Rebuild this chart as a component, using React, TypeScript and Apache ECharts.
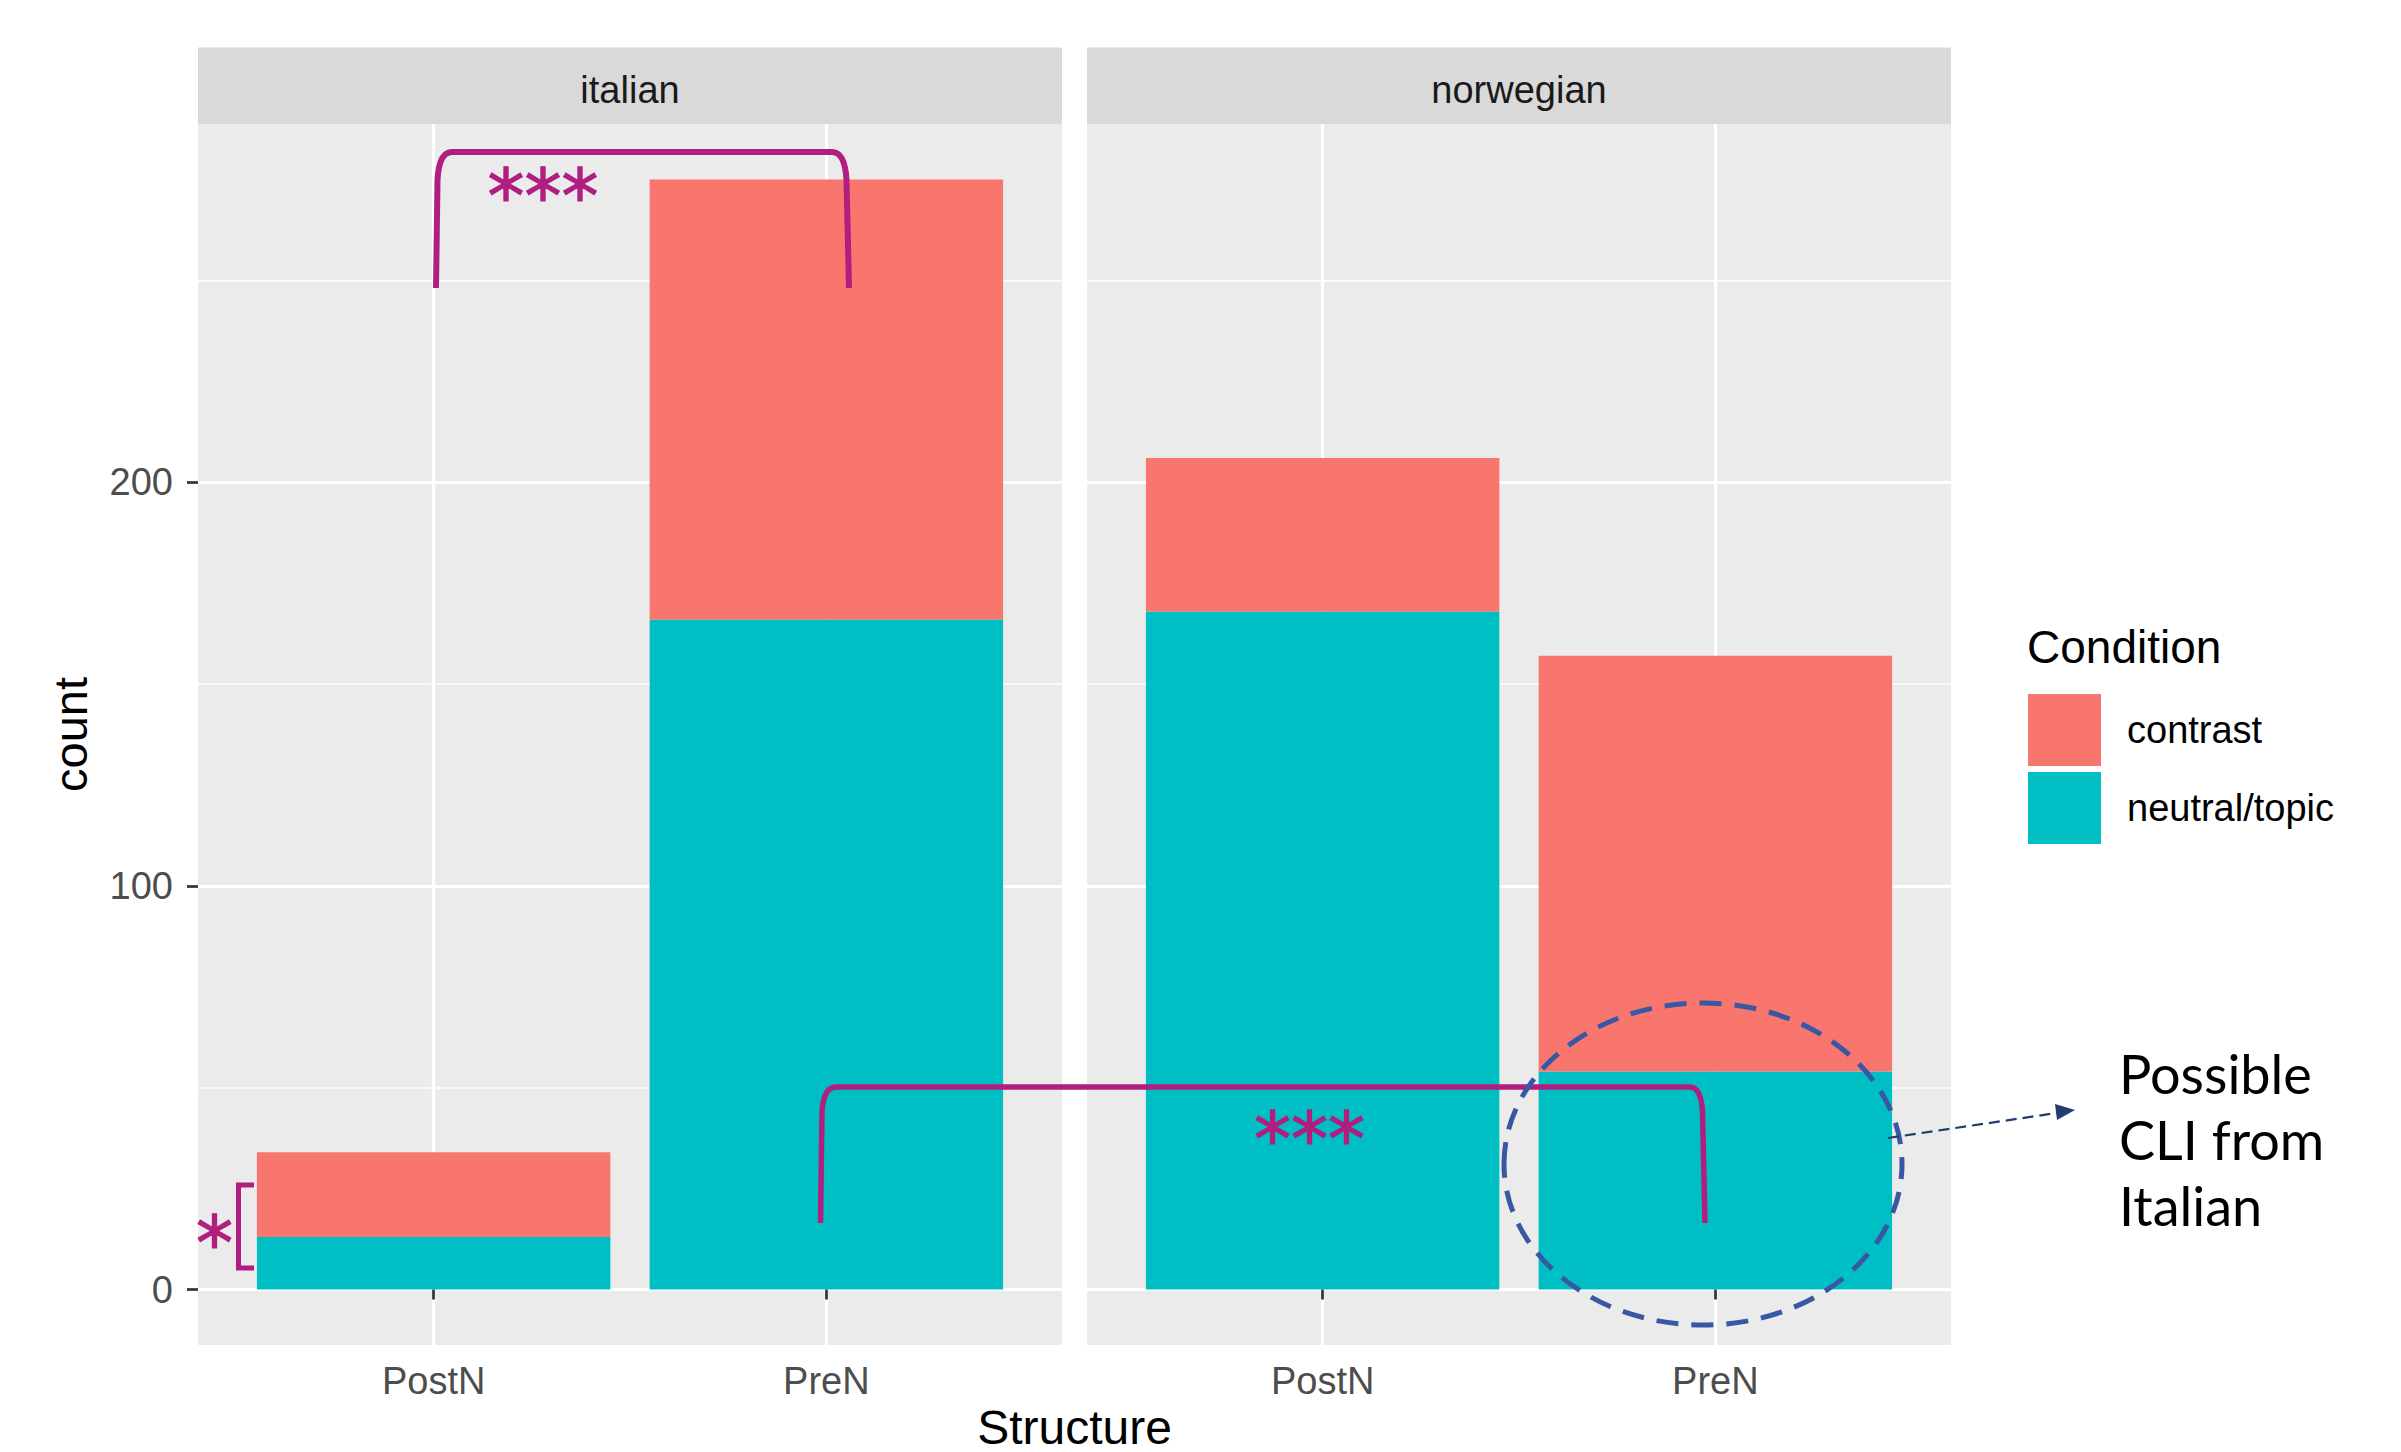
import React, { useEffect, useRef } from 'react';
import * as echarts from 'echarts';

// ---------- data ----------
const structures = ['PostN', 'PreN'];
const languages = ['italian', 'norwegian'];
const conditions = ['contrast', 'neutral/topic'];
const italianContrast = [21, 109];
const italianNeutral = [13, 166];
const norwegianContrast = [38, 103];
const norwegianNeutral = [168, 54];
const yMajorTicks = [0, 100, 200];
const yMinorTicks = [50, 150, 250];
const xTickValues = [1, 2];

// ---------- style / layout ----------
const conditionColors: Record<string, string> = { contrast: '#F8766D', 'neutral/topic': '#00BFC4' };
const FONT = "'Liberation Sans', Arial, sans-serif";
const PANEL_TOP = 124;
const PANEL_H = 1221;
const PANEL_W = 864;
const PANEL_LEFTS = [198, 1087];
const STRIP_TOP = 47.5;
const STRIP_H = 76.5;
const Y_MIN = -13.75;
const Y_MAX = 288.75;
const X_MIN = 0.4;
const X_MAX = 2.6;
const MAGENTA = '#B01E80';

const panelData = [
  { neutral: italianNeutral, contrast: italianContrast },
  { neutral: norwegianNeutral, contrast: norwegianContrast },
];

function buildOption() {
  const unit = PANEL_W / (X_MAX - X_MIN);
  // panel grids (background, gridlines, labels)
  const panelGrids = PANEL_LEFTS.map((left) => ({
    left,
    top: PANEL_TOP,
    width: PANEL_W,
    height: PANEL_H,
    show: true,
    backgroundColor: '#EBEBEB',
    borderWidth: 0,
    containLabel: false,
    outerBoundsMode: 'none',
  }));
  // bar grids: span from first to last category centre
  const barGrids = PANEL_LEFTS.map((left) => ({
    left: left + (1 - X_MIN) * unit,
    top: PANEL_TOP,
    width: unit,
    height: PANEL_H,
    show: false,
    containLabel: false,
    outerBoundsMode: 'none',
  }));

  const xAxes: any[] = PANEL_LEFTS.map((_, g) => ({
    type: 'value',
    gridIndex: g,
    min: X_MIN,
    max: X_MAX,
    axisLine: { show: false },
    axisTick: {
      show: true,
      customValues: xTickValues,
      length: 10,
      lineStyle: { color: '#333333', width: 2.7 },
    },
    axisLabel: {
      show: true,
      customValues: xTickValues,
      formatter: (v: number) => structures[Math.round(v) - 1] ?? '',
      fontSize: 38,
      fontFamily: FONT,
      color: '#4D4D4D',
      margin: 17,
    },
    splitLine: { show: true, lineStyle: { color: '#FFFFFF', width: 3.2 } },
  }));
  PANEL_LEFTS.forEach((_, g) => {
    xAxes.push({
      type: 'category',
      gridIndex: 2 + g,
      data: structures,
      boundaryGap: false,
      show: false,
    });
  });

  const yAxes: any[] = [];
  PANEL_LEFTS.forEach((_, g) => {
    yAxes.push({
      type: 'value',
      gridIndex: g,
      min: Y_MIN,
      max: Y_MAX,
      position: 'left',
      name: g === 0 ? 'count' : '',
      nameLocation: 'middle',
      nameGap: 104,
      nameTextStyle: { fontSize: 47, color: '#000000', fontFamily: FONT },
      axisLine: { show: false },
      axisTick: {
        show: g === 0,
        customValues: yMajorTicks,
        length: 11,
        lineStyle: { color: '#333333', width: 2.7 },
      },
      axisLabel: {
        show: g === 0,
        customValues: yMajorTicks,
        fontSize: 38,
        fontFamily: FONT,
        color: '#4D4D4D',
        margin: 25,
      },
      splitLine: { show: true, lineStyle: { color: '#FFFFFF', width: 3.2 } },
    });
    yAxes.push({
      type: 'value',
      gridIndex: g,
      min: Y_MIN,
      max: Y_MAX,
      position: 'right',
      axisLine: { show: false },
      axisTick: { show: false, customValues: yMinorTicks },
      axisLabel: { show: false, customValues: yMinorTicks },
      splitLine: { show: true, lineStyle: { color: '#FFFFFF', width: 1.7 } },
    });
  });
  PANEL_LEFTS.forEach((_, g) => {
    yAxes.push({
      type: 'value',
      gridIndex: 2 + g,
      min: Y_MIN,
      max: Y_MAX,
      show: false,
      splitLine: { show: false },
    });
  });

  const series: any[] = [];
  panelData.forEach((p, g) => {
    series.push({
      type: 'bar',
      name: 'neutral/topic',
      xAxisIndex: 2 + g,
      yAxisIndex: 4 + g,
      stack: 'panel' + g,
      barWidth: '90%',
      clip: false,
      itemStyle: { color: conditionColors['neutral/topic'] },
      data: p.neutral,
      z: 3,
    });
    series.push({
      type: 'bar',
      name: 'contrast',
      xAxisIndex: 2 + g,
      yAxisIndex: 4 + g,
      stack: 'panel' + g,
      barWidth: '90%',
      clip: false,
      itemStyle: { color: conditionColors['contrast'] },
      data: p.contrast,
      z: 3,
    });
  });

  const strips: any[] = [];
  languages.forEach((lang, g) => {
    strips.push({
      type: 'rect',
      shape: { x: PANEL_LEFTS[g], y: STRIP_TOP, width: PANEL_W, height: STRIP_H },
      style: { fill: '#D9D9D9' },
      silent: true,
    });
    strips.push({
      type: 'text',
      x: PANEL_LEFTS[g] + PANEL_W / 2,
      y: 90,
      style: {
        text: lang,
        fontSize: 38,
        fontFamily: FONT,
        fill: '#1A1A1A',
        align: 'center',
        verticalAlign: 'middle',
      },
      silent: true,
    });
  });

  const bracketStyle = {
    fill: 'none',
    stroke: MAGENTA,
    lineWidth: 6,
    lineCap: 'butt',
    lineJoin: 'round',
  };
  const starFont = "'DejaVu Sans', sans-serif";
  const starStyle = {
    fontSize: 74,
    fontWeight: 'normal',
    fontFamily: starFont,
    fill: MAGENTA,
    stroke: MAGENTA,
    lineWidth: 1.2,
    align: 'center',
    verticalAlign: 'middle',
  };

  const annotations: any[] = [
    { type: 'bracketTop', x: 0, y: 0, style: bracketStyle, z: 100, silent: true },
    { type: 'bracketBottom', x: 0, y: 0, style: { ...bracketStyle, lineWidth: 5.5 }, z: 100, silent: true },
    {
      type: 'polyline',
      shape: { points: [[254, 1185], [238.5, 1185], [238.5, 1268], [254, 1268]] },
      style: { ...bracketStyle, lineWidth: 5, lineJoin: 'miter' },
      z: 100,
      silent: true,
    },
    { type: 'text', x: 543, y: 196, style: { ...starStyle, text: '***' }, z: 100, silent: true },
    { type: 'text', x: 1309.5, y: 1139, style: { ...starStyle, text: '***' }, z: 100, silent: true },
    { type: 'text', x: 214.5, y: 1243, style: { ...starStyle, text: '*' }, z: 100, silent: true },
    {
      type: 'ellipse',
      shape: { cx: 1703, cy: 1164, rx: 199, ry: 161 },
      style: { fill: 'none', stroke: '#3858A3', lineWidth: 5, lineDash: [22, 13] },
      z: 100,
      silent: true,
    },
    {
      type: 'line',
      shape: { x1: 1888, y1: 1138, x2: 2060, y2: 1112.5 },
      style: { stroke: '#1F3D70', lineWidth: 2.2, lineDash: [11, 6] },
      z: 100,
      silent: true,
    },
    {
      type: 'polygon',
      shape: { points: [[2075, 1110], [2057, 1120], [2055, 1104]] },
      style: { fill: '#1F3D70' },
      z: 100,
      silent: true,
    },
    {
      type: 'text',
      x: 2119,
      y: 1040,
      style: {
        text: 'Possible\nCLI from\nItalian',
        fontSize: 54,
        lineHeight: 66,
        fontFamily: "Lato, 'Open Sans', sans-serif",
        fill: '#000000',
        align: 'left',
        verticalAlign: 'top',
      },
      z: 100,
      silent: true,
    },
  ];

  const titles: any[] = [
    {
      type: 'text',
      x: 1074.5,
      y: 1427,
      style: { text: 'Structure', fontSize: 48, fontFamily: FONT, fill: '#000000', align: 'center', verticalAlign: 'middle' },
      silent: true,
    },
    {
      type: 'text',
      x: 2027,
      y: 647,
      style: { text: 'Condition', fontSize: 46, fontFamily: FONT, fill: '#000000', align: 'left', verticalAlign: 'middle' },
      silent: true,
    },
  ];

  return {
    animation: false,
    backgroundColor: '#FFFFFF',
    grid: [...panelGrids, ...barGrids],
    xAxis: xAxes,
    yAxis: yAxes,
    legend: {
      show: true,
      data: conditions,
      orient: 'vertical',
      left: 2028,
      top: 694,
      padding: 0,
      itemWidth: 73,
      itemHeight: 72,
      itemGap: 6,
      icon: 'rect',
      selectedMode: false,
      textStyle: { fontSize: 38, fontFamily: FONT, color: '#000000', padding: [0, 0, 0, 21] },
    },
    series,
    graphic: { elements: [...strips, ...titles, ...annotations] },
  };
}

export default function App() {
  const ref = useRef<HTMLDivElement | null>(null);
  useEffect(() => {
    if (!ref.current) return;
    echarts.graphic.registerShape(
      'bracketTop',
      echarts.graphic.extendPath('M436 288 L437.5 180 Q439 152 452 152 L832 152 Q845 152 846.5 180 L849 288', {})
    );
    echarts.graphic.registerShape(
      'bracketBottom',
      echarts.graphic.extendPath('M820.5 1223 L822 1112 Q823.5 1087 836 1087 L1690 1087 Q1701 1087 1702.5 1112 L1705 1223', {})
    );
    const chart = echarts.init(ref.current, undefined, { renderer: 'svg' });
    chart.setOption(buildOption() as any);
    return () => {
      chart.dispose();
    };
  }, []);
  return (
    <div
      ref={ref}
      style={{ position: 'fixed', left: 0, top: 0, width: 2401, height: 1452, background: '#FFFFFF' }}
    />
  );
}
